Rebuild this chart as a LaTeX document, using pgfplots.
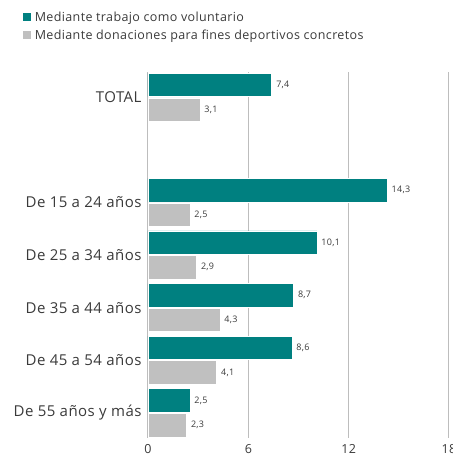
\documentclass[border=0pt]{standalone}
\usepackage{fontspec}
\setmainfont{Open Sans}[LetterSpace=3.0]
\usepackage{pgfplots}
\pgfplotsset{compat=1.18}
\definecolor{Teal}{HTML}{008080}
\definecolor{Pale}{HTML}{C0C0C0}
\definecolor{Grid}{HTML}{BDBDBD}
\definecolor{Txt}{HTML}{3A3A3A}
\begin{document}
\begin{tikzpicture}[x=1pt,y=1pt]
\begin{axis}[
  at={(148pt,-438pt)},anchor=south west,
  scale only axis,width=301pt,height=366pt,
  xmin=0,xmax=18,ymin=-0.48,ymax=6.48,y dir=reverse,
  axis line style={draw=none},major tick length=0pt,
  xtick={0,6,12,18},xmajorgrids,ymajorgrids=false,
  grid style={draw=Grid,line width=1pt},
  ytick={0,2,3,4,5,6},
  yticklabels={TOTAL,De 15 a 24 años,De 25 a 34 años,De 35 a 44 años,De 45 a 54 años,De 55 años y más},
  yticklabel style={font=\fontsize{15}{17}\selectfont,text=Txt,xshift=-3pt},
  xticklabel style={font=\fontsize{12.5}{14}\selectfont,text=Txt,yshift=-3pt},
  /pgf/number format/assume math mode=true,
  point meta=x,
  nodes near coords,
  every node near coord/.append style={font=\fontsize{9}{10}\selectfont,text=Txt,xshift=1pt,
    /pgf/number format/use comma,/pgf/number format/fixed,
    /pgf/number format/fixed zerofill,/pgf/number format/precision=1},
  legend style={at={(-0.415,1.17)},anchor=north west,draw=none,fill=none,
    font=\fontsize{12.5}{15}\selectfont,text=Txt,legend cell align=left,
    row sep=2.5pt,inner sep=0pt,
    /tikz/every odd column/.append style={column sep=1.5pt}},
  legend image code/.code={\fill[#1,draw=none] (0pt,-4pt) rectangle (8pt,4pt);},
]
\addplot[xbar,bar width=23.5pt,bar shift=12.3pt,fill=Teal,draw=white,line width=0.5pt,
  every node near coord/.append style={yshift=12.3pt}]
  coordinates {(7.4,0) (14.3,2) (10.1,3) (8.7,4) (8.6,5) (2.5,6)};
\addlegendentry{Mediante trabajo como voluntario}
\addplot[xbar,bar width=23.5pt,bar shift=-12.3pt,fill=Pale,draw=white,line width=0.5pt,
  every node near coord/.append style={yshift=-12.3pt}]
  coordinates {(3.1,0) (2.5,2) (2.9,3) (4.3,4) (4.1,5) (2.3,6)};
\addlegendentry{Mediante donaciones para fines deportivos concretos}
\end{axis}
\pgfresetboundingbox
\path (0,0) rectangle (453,-459);
\end{tikzpicture}
\end{document}
